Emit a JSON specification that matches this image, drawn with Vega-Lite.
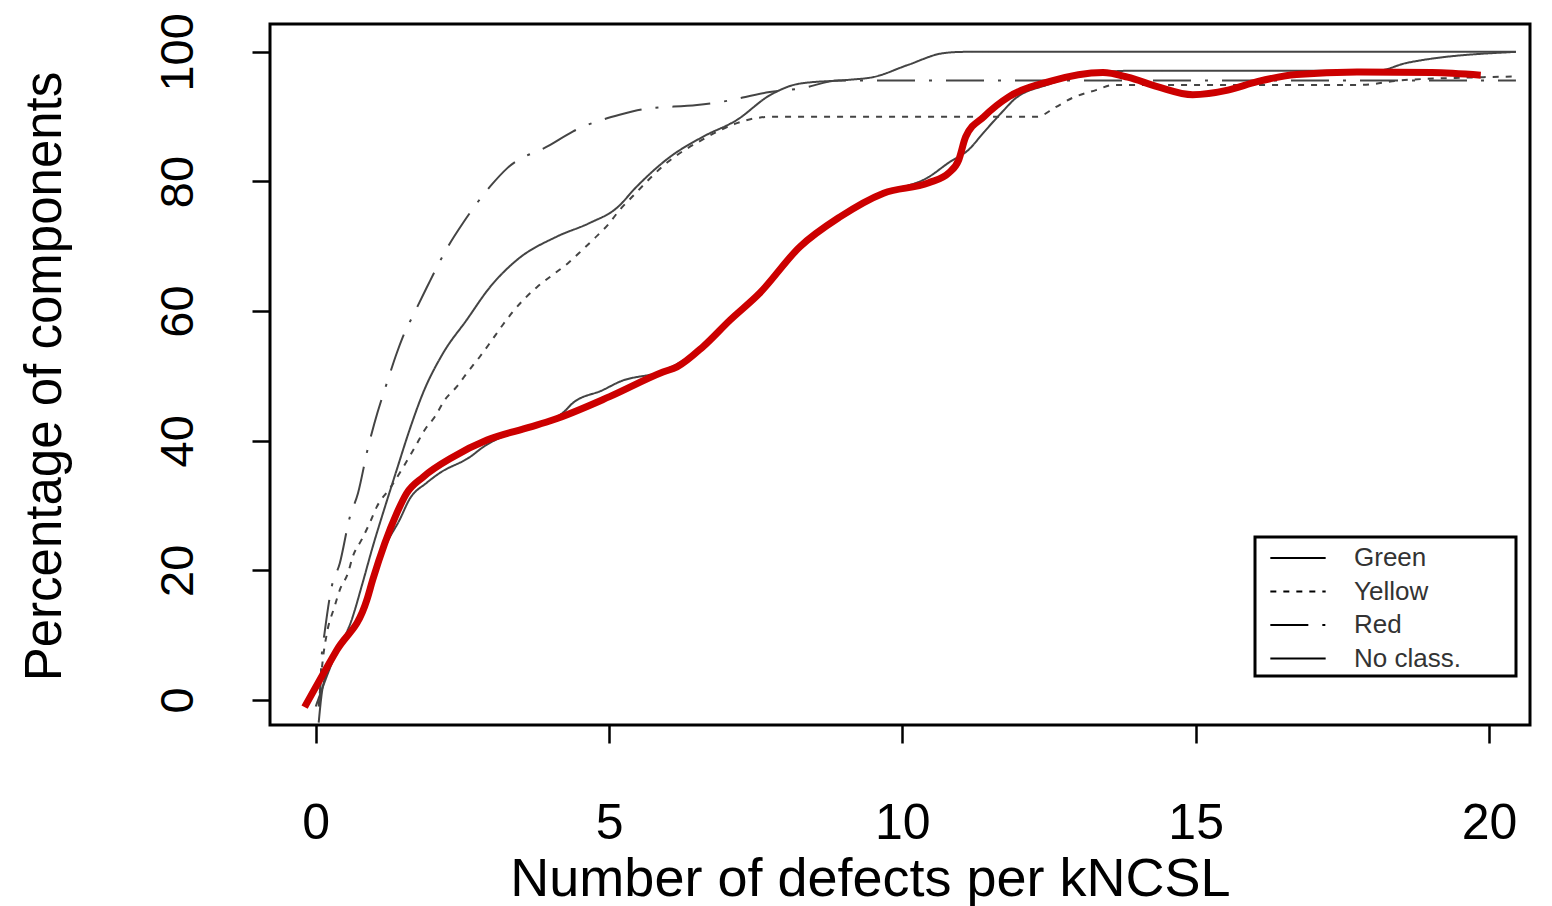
{
  "$schema": "https://vega.github.io/schema/vega-lite/v6.json",
  "width": 1260,
  "height": 701,
  "autosize": {"type": "none"},
  "padding": {"left": 270, "top": 24, "right": 22, "bottom": 181},
  "background": "white",
  "config": {
    "view": {"stroke": "black", "strokeWidth": 3},
    "font": "Liberation Sans",
    "legend": {"strokeWidth": 3}
  },
  "datasets": {
    "classes": [
      {"series": "Green", "x": 0.05, "y": -3.5},
      {"series": "Green", "x": 0.12, "y": 2},
      {"series": "Green", "x": 0.36, "y": 7.3},
      {"series": "Green", "x": 0.61, "y": 12.3},
      {"series": "Green", "x": 0.8, "y": 18.1},
      {"series": "Green", "x": 0.97, "y": 23.6},
      {"series": "Green", "x": 1.18, "y": 29.8},
      {"series": "Green", "x": 1.38, "y": 35.5},
      {"series": "Green", "x": 1.6, "y": 41.7},
      {"series": "Green", "x": 1.83, "y": 47.4},
      {"series": "Green", "x": 2.17, "y": 53.5},
      {"series": "Green", "x": 2.57, "y": 58.6},
      {"series": "Green", "x": 2.97, "y": 63.7},
      {"series": "Green", "x": 3.43, "y": 67.9},
      {"series": "Green", "x": 4.11, "y": 71.5},
      {"series": "Green", "x": 4.67, "y": 73.6},
      {"series": "Green", "x": 5.13, "y": 75.9},
      {"series": "Green", "x": 5.47, "y": 79.2},
      {"series": "Green", "x": 6.04, "y": 83.8},
      {"series": "Green", "x": 6.6, "y": 86.9},
      {"series": "Green", "x": 7.18, "y": 89.5},
      {"series": "Green", "x": 7.74, "y": 93.3},
      {"series": "Green", "x": 8.25, "y": 95.1},
      {"series": "Green", "x": 9.1, "y": 95.7},
      {"series": "Green", "x": 9.5, "y": 96.1},
      {"series": "Green", "x": 10.1, "y": 98},
      {"series": "Green", "x": 10.7, "y": 99.8},
      {"series": "Green", "x": 11.05, "y": 100},
      {"series": "Green", "x": 20.46, "y": 100},

      {"series": "Yellow", "x": 0.05, "y": -1},
      {"series": "Yellow", "x": 0.12, "y": 6.2},
      {"series": "Yellow", "x": 0.19, "y": 10.3},
      {"series": "Yellow", "x": 0.32, "y": 14.4},
      {"series": "Yellow", "x": 0.41, "y": 17},
      {"series": "Yellow", "x": 0.55, "y": 19.6},
      {"series": "Yellow", "x": 0.63, "y": 22.1},
      {"series": "Yellow", "x": 0.78, "y": 24.7},
      {"series": "Yellow", "x": 0.92, "y": 27.3},
      {"series": "Yellow", "x": 1.04, "y": 29.8},
      {"series": "Yellow", "x": 1.26, "y": 32.6},
      {"series": "Yellow", "x": 1.69, "y": 39},
      {"series": "Yellow", "x": 1.86, "y": 41.7},
      {"series": "Yellow", "x": 2.03, "y": 43.7},
      {"series": "Yellow", "x": 2.2, "y": 46.3},
      {"series": "Yellow", "x": 2.4, "y": 48.3},
      {"series": "Yellow", "x": 2.59, "y": 50.6},
      {"series": "Yellow", "x": 2.8, "y": 53},
      {"series": "Yellow", "x": 2.97, "y": 55.1},
      {"series": "Yellow", "x": 3.19, "y": 57.9},
      {"series": "Yellow", "x": 3.36, "y": 59.9},
      {"series": "Yellow", "x": 3.77, "y": 63.7},
      {"series": "Yellow", "x": 4.04, "y": 65.6},
      {"series": "Yellow", "x": 4.3, "y": 67.4},
      {"series": "Yellow", "x": 4.54, "y": 69.4},
      {"series": "Yellow", "x": 4.76, "y": 71.3},
      {"series": "Yellow", "x": 4.98, "y": 73.3},
      {"series": "Yellow", "x": 5.18, "y": 75.6},
      {"series": "Yellow", "x": 5.39, "y": 77.6},
      {"series": "Yellow", "x": 6.0, "y": 83},
      {"series": "Yellow", "x": 6.6, "y": 86.5},
      {"series": "Yellow", "x": 7.18, "y": 89},
      {"series": "Yellow", "x": 7.52, "y": 89.8},
      {"series": "Yellow", "x": 7.8, "y": 90},
      {"series": "Yellow", "x": 12.3, "y": 90},
      {"series": "Yellow", "x": 12.6, "y": 91.4},
      {"series": "Yellow", "x": 12.9, "y": 92.9},
      {"series": "Yellow", "x": 13.3, "y": 94.1},
      {"series": "Yellow", "x": 13.6, "y": 94.9},
      {"series": "Yellow", "x": 17.8, "y": 94.9},
      {"series": "Yellow", "x": 18.5, "y": 95.6},
      {"series": "Yellow", "x": 19.5, "y": 96},
      {"series": "Yellow", "x": 20.46, "y": 96.2},

      {"series": "Red", "x": 0.07, "y": -1},
      {"series": "Red", "x": 0.1, "y": 6.6},
      {"series": "Red", "x": 0.15, "y": 10.3},
      {"series": "Red", "x": 0.27, "y": 17.4},
      {"series": "Red", "x": 0.41, "y": 21.1},
      {"series": "Red", "x": 0.58, "y": 28.2},
      {"series": "Red", "x": 0.72, "y": 31.9},
      {"series": "Red", "x": 0.89, "y": 38.9},
      {"series": "Red", "x": 1.0, "y": 42.7},
      {"series": "Red", "x": 1.23, "y": 49.4},
      {"series": "Red", "x": 1.38, "y": 53.5},
      {"series": "Red", "x": 1.48, "y": 55.9},
      {"series": "Red", "x": 1.69, "y": 59.9},
      {"series": "Red", "x": 1.89, "y": 63.6},
      {"series": "Red", "x": 2.25, "y": 69.9},
      {"series": "Red", "x": 2.51, "y": 73.6},
      {"series": "Red", "x": 2.97, "y": 79.2},
      {"series": "Red", "x": 3.27, "y": 82.1},
      {"series": "Red", "x": 3.99, "y": 85.6},
      {"series": "Red", "x": 4.38, "y": 87.7},
      {"series": "Red", "x": 5.18, "y": 90.3},
      {"series": "Red", "x": 5.61, "y": 91.2},
      {"series": "Red", "x": 6.5, "y": 91.8},
      {"series": "Red", "x": 6.92, "y": 92.3},
      {"series": "Red", "x": 7.74, "y": 93.8},
      {"series": "Red", "x": 8.3, "y": 94.4},
      {"series": "Red", "x": 8.9, "y": 95.6},
      {"series": "Red", "x": 20.46, "y": 95.6},

      {"series": "No class.", "x": 0.0, "y": -1},
      {"series": "No class.", "x": 0.36, "y": 7.5},
      {"series": "No class.", "x": 0.87, "y": 15.5},
      {"series": "No class.", "x": 0.97, "y": 18.5},
      {"series": "No class.", "x": 1.2, "y": 24},
      {"series": "No class.", "x": 1.43, "y": 27.8},
      {"series": "No class.", "x": 1.6, "y": 31},
      {"series": "No class.", "x": 1.89, "y": 33.5},
      {"series": "No class.", "x": 2.11, "y": 35},
      {"series": "No class.", "x": 2.63, "y": 37.5},
      {"series": "No class.", "x": 2.85, "y": 39},
      {"series": "No class.", "x": 3.6, "y": 42.1},
      {"series": "No class.", "x": 4.21, "y": 44.3},
      {"series": "No class.", "x": 4.38, "y": 45.8},
      {"series": "No class.", "x": 4.89, "y": 47.8},
      {"series": "No class.", "x": 5.18, "y": 49.1},
      {"series": "No class.", "x": 5.92, "y": 50.8},
      {"series": "No class.", "x": 6.6, "y": 54.5},
      {"series": "No class.", "x": 7.06, "y": 58.6},
      {"series": "No class.", "x": 7.57, "y": 63},
      {"series": "No class.", "x": 8.25, "y": 70},
      {"series": "No class.", "x": 8.93, "y": 74.5},
      {"series": "No class.", "x": 9.68, "y": 78.2},
      {"series": "No class.", "x": 10.45, "y": 80.7},
      {"series": "No class.", "x": 10.79, "y": 82.9},
      {"series": "No class.", "x": 11.13, "y": 84.9},
      {"series": "No class.", "x": 11.39, "y": 87.6},
      {"series": "No class.", "x": 11.73, "y": 91},
      {"series": "No class.", "x": 11.9, "y": 92.6},
      {"series": "No class.", "x": 12.5, "y": 95},
      {"series": "No class.", "x": 13.3, "y": 96.8},
      {"series": "No class.", "x": 14.0, "y": 97.1},
      {"series": "No class.", "x": 18.1, "y": 97.1},
      {"series": "No class.", "x": 18.6, "y": 98.3},
      {"series": "No class.", "x": 20.46, "y": 100}
    ],
    "highlight": [
      {"x": -0.19, "y": -1.1},
      {"x": 0.36, "y": 7.7},
      {"x": 0.87, "y": 15.4},
      {"x": 0.97, "y": 18.5},
      {"x": 1.38, "y": 28.8},
      {"x": 1.55, "y": 31.9},
      {"x": 1.83, "y": 34.4},
      {"x": 2.34, "y": 37.5},
      {"x": 2.92, "y": 40.1},
      {"x": 3.65, "y": 42.1},
      {"x": 4.04, "y": 43.2},
      {"x": 5.01, "y": 46.8},
      {"x": 5.92, "y": 50.6},
      {"x": 6.16, "y": 51.4},
      {"x": 6.6, "y": 54.5},
      {"x": 7.06, "y": 58.6},
      {"x": 7.57, "y": 62.8},
      {"x": 8.25, "y": 69.9},
      {"x": 8.93, "y": 74.5},
      {"x": 9.68, "y": 78.2},
      {"x": 10.45, "y": 79.8},
      {"x": 10.79, "y": 81.3},
      {"x": 10.96, "y": 83.3},
      {"x": 11.08, "y": 86.9},
      {"x": 11.39, "y": 90},
      {"x": 11.82, "y": 93.1},
      {"x": 12.5, "y": 95.4},
      {"x": 13.42, "y": 96.8},
      {"x": 13.84, "y": 96.1},
      {"x": 14.36, "y": 94.6},
      {"x": 14.95, "y": 93.4},
      {"x": 15.55, "y": 94.1},
      {"x": 16.05, "y": 95.4},
      {"x": 16.72, "y": 96.5},
      {"x": 17.75, "y": 96.9},
      {"x": 19.03, "y": 96.8},
      {"x": 19.86, "y": 96.4}
    ]
  },
  "layer": [
    {
      "data": {"name": "classes"},
      "mark": {"type": "line", "interpolate": "monotone", "strokeWidth": 2, "color": "#444444", "clip": true},
      "encoding": {
        "x": {
          "field": "x", "type": "quantitative",
          "scale": {"domain": [-0.78, 20.7], "nice": false, "zero": false},
          "axis": {
            "title": "Number of defects per kNCSL",
            "values": [0, 5, 10, 15, 20],
            "format": "d",
            "domain": false, "grid": false,
            "tickSize": 18, "tickWidth": 2.5, "tickColor": "black",
            "labelFontSize": 50, "labelColor": "black", "labelFont": "Liberation Sans",
            "labelBaseline": "alphabetic", "labelPadding": 95,
            "labelFlush": false, "labelOverlap": false,
            "titleFont": "Liberation Sans", "titleFontSize": 54, "titleFontWeight": "normal", "titleColor": "black",
            "titleX": 600, "titleY": 170, "titleAlign": "center", "titleBaseline": "alphabetic"
          }
        },
        "y": {
          "field": "y", "type": "quantitative",
          "scale": {"domain": [-3.86, 104.3], "nice": false, "zero": false},
          "axis": {
            "title": "Percentage of components",
            "values": [0, 20, 40, 60, 80, 100],
            "format": "d",
            "domain": false, "grid": false,
            "tickSize": 18, "tickWidth": 2.5, "tickColor": "black",
            "labelFontSize": 47, "labelColor": "black", "labelFont": "Liberation Sans",
            "labelAngle": 270, "labelAlign": "center", "labelBaseline": "alphabetic", "labelPadding": 60,
            "labelFlush": false, "labelOverlap": false,
            "titleFont": "Liberation Sans", "titleFontSize": 51, "titleFontWeight": "normal", "titleColor": "black",
            "titleAngle": 270, "titleX": -210, "titleY": 352, "titleAlign": "center", "titleBaseline": "alphabetic"
          }
        },
        "strokeDash": {
          "field": "series", "type": "nominal",
          "scale": {
            "domain": ["Green", "Yellow", "Red", "No class."],
            "range": [[1, 0], [6, 7], [38, 14, 3, 14], [1, 0]]
          },
          "legend": {
            "title": null,
            "orient": "none",
            "legendX": 985,
            "legendY": 513,
            "fillColor": "white",
            "strokeColor": "black",
            "padding": 4,
            "symbolType": "M-1.75,0H1.75",
            "symbolSize": 1000,
            "symbolStrokeWidth": 2,
            "symbolStrokeColor": "black",
            "symbolOffset": 22,
            "labelFont": "Liberation Sans",
            "labelFontSize": 26,
            "labelColor": "#333333",
            "labelOffset": 39,
            "rowPadding": 3.5,
            "labelExpr": "datum.label + '\u00a0\u00a0\u00a0\u00a0\u00a0\u00a0\u00a0\u200b'"
          }
        }
      }
    },
    {
      "data": {"name": "highlight"},
      "mark": {"type": "line", "interpolate": "monotone", "strokeWidth": 7, "color": "#cc0000", "clip": true, "strokeCap": "butt"},
      "encoding": {
        "x": {"field": "x", "type": "quantitative"},
        "y": {"field": "y", "type": "quantitative"}
      }
    }
  ]
}
